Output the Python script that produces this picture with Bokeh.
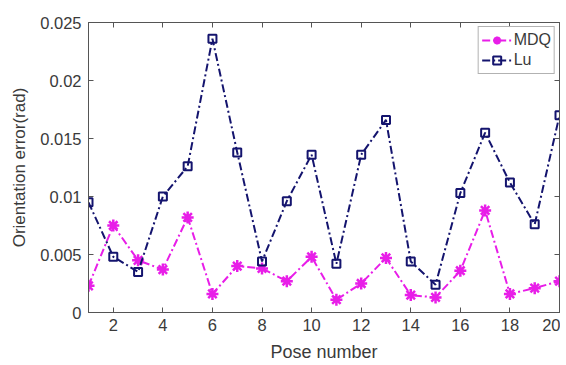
from bokeh.plotting import figure
from bokeh.models import LinearAxis, Range1d, FixedTicker, Legend, LegendItem
from bokeh.embed import file_html
from bokeh.resources import INLINE

pose = list(range(1, 21))
mdq = [0.0023, 0.0075, 0.0045, 0.0037, 0.0082, 0.0016, 0.0040, 0.0038, 0.0027, 0.0048,
       0.0011, 0.0025, 0.0047, 0.0015, 0.0013, 0.0036, 0.0088, 0.0016, 0.0021, 0.0027]
lu = [0.0095, 0.0048, 0.0035, 0.0100, 0.0126, 0.0236, 0.0138, 0.0044, 0.0096, 0.0136,
      0.0042, 0.0136, 0.0166, 0.0044, 0.0024, 0.0103, 0.0155, 0.0112, 0.0076, 0.0170]
x_ticks = [2, 4, 6, 8, 10, 12, 14, 16, 18, 20]
y_ticks = [0, 0.005, 0.01, 0.015, 0.02, 0.025]
y_labels = {0: "0", 0.005: "0.005", 0.01: "0.01", 0.015: "0.015", 0.02: "0.02", 0.025: "0.025"}

FONT = "Liberation Sans"
TXT = "#3a3a3a"

p = figure(width=560, height=365, output_backend="svg", toolbar_location=None,
           x_range=Range1d(1, 20), y_range=Range1d(0, 0.025),
           min_border_left=88, min_border_right=1, min_border_top=22, min_border_bottom=53)
p.grid.visible = False
p.outline_line_color = "#555555"
p.outline_line_width = 1

for ax in p.xaxis + p.yaxis:
    ax.major_tick_in = 5
    ax.major_tick_out = 0
    ax.minor_tick_line_color = None
    ax.axis_line_color = "#555555"
    ax.major_tick_line_color = "#555555"
    ax.major_label_text_font = FONT
    ax.major_label_text_font_size = "16.5px"
    ax.major_label_text_color = TXT
    ax.axis_label_text_font = FONT
    ax.axis_label_text_font_style = "normal"
    ax.axis_label_text_color = TXT

p.xaxis.ticker = FixedTicker(ticks=x_ticks)
p.yaxis.ticker = FixedTicker(ticks=y_ticks)
p.yaxis.major_label_overrides = y_labels
p.xaxis.axis_label = "Pose number"
p.yaxis.axis_label = "Orientation error(rad)"
p.xaxis.axis_label_text_font_size = "18px"
p.yaxis.axis_label_text_font_size = "17px"
p.xaxis.major_label_standoff = 6
p.yaxis.major_label_standoff = 7
p.xaxis.axis_label_standoff = 8
p.yaxis.axis_label_standoff = 8

top = LinearAxis(ticker=FixedTicker(ticks=x_ticks),
                 major_label_overrides={t: "" for t in x_ticks},
                 major_tick_in=5, major_tick_out=0, minor_tick_line_color=None,
                 axis_line_color="#555555", major_tick_line_color="#555555")
right = LinearAxis(ticker=FixedTicker(ticks=y_ticks),
                   major_label_overrides={t: "" for t in y_ticks},
                   major_tick_in=5, major_tick_out=0, minor_tick_line_color=None,
                   axis_line_color="#555555", major_tick_line_color="#555555")
p.add_layout(top, "above")
p.add_layout(right, "right")

MAG = "#e81ee8"
NAVY = "#14146e"
DASH = "8 3 2 3"

l1 = p.line(pose, mdq, line_color=MAG, line_width=2, line_dash=DASH)
m1 = p.scatter(pose, mdq, marker="asterisk", size=12, line_color=MAG, line_width=2.5)
l2 = p.line(pose, lu, line_color=NAVY, line_width=2, line_dash=DASH)
m2 = p.scatter(pose, lu, marker="square", size=8, line_color=NAVY, fill_color=None, line_width=2)

legend = Legend(items=[LegendItem(label="MDQ", renderers=[l1, m1]),
                       LegendItem(label="Lu", renderers=[l2, m2])],
                location="top_right", margin=4, padding=3, spacing=0,
                label_text_font=FONT, label_text_font_size="16px", label_text_color=TXT,
                border_line_color="#666666", label_standoff=2, glyph_width=30, glyph_height=20,
                label_height=20)
p.add_layout(legend)

open("out.html", "w").write(file_html(p, INLINE))
